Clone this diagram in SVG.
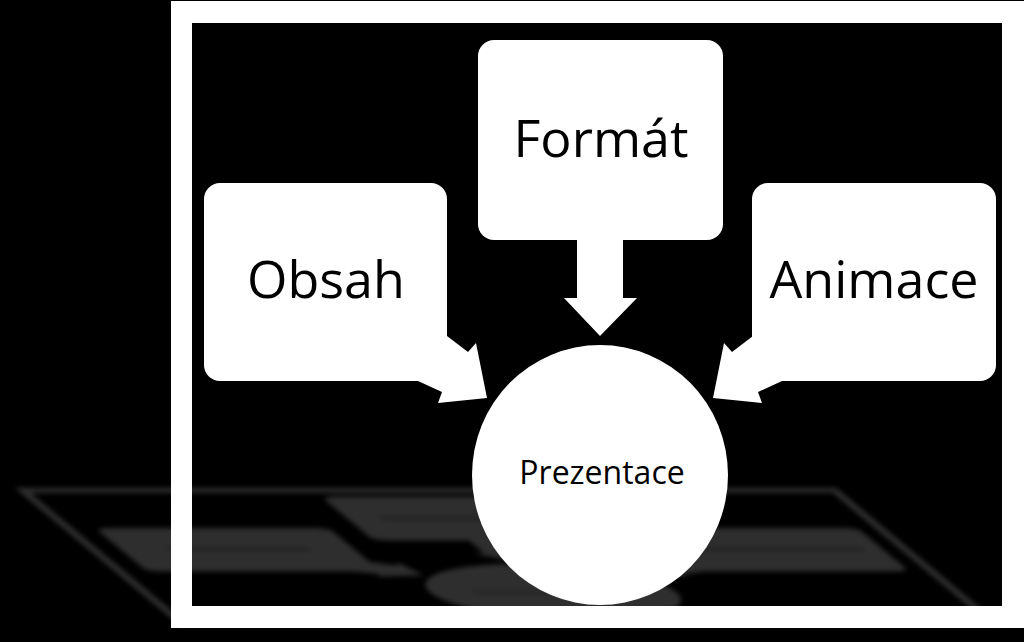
<svg xmlns="http://www.w3.org/2000/svg" width="1024" height="642" viewBox="0 0 1024 642">
<defs>
<style>
.shape{fill:#fff}
.lbl{font-family:"Open Sans","Noto Sans","DejaVu Sans",sans-serif;fill:#000;text-anchor:middle}
.big{font-size:52px}
.small{font-size:32px}
.ghost{fill:#fff}
.ghost-text{fill:#000;opacity:0.18}
</style>
<filter id="soft" x="-5%" y="-20%" width="110%" height="140%"><feGaussianBlur stdDeviation="2.8"/></filter>
</defs>
<rect width="1024" height="642" fill="#000"/>
<g id="reflection" filter="url(#soft)" opacity="0.18">
<g transform="matrix(0.963,0,0.264,0.22,-150,487.8)">
<path class="ghost" fill-rule="evenodd" d="M171,1H1024V628H171Z M181,23V606H1014V23Z"/>
<rect class="ghost" x="478" y="40" width="245" height="200" rx="16"/>
<rect class="ghost" x="204" y="183" width="243" height="198" rx="16"/>
<rect class="ghost" x="752" y="183" width="244" height="198" rx="16"/>
<polygon class="ghost" points="577,230 623,230 623,298 637,298 600,336 564,298 577,298"/>
<polygon class="ghost" points="447,336 468,352 476,343 487,398 438,403 442,392 418,381 410,370"/>
<polygon class="ghost" points="753,336 732,352 724,343 713,398 762,403 758,392 782,381 790,370"/>
<ellipse class="ghost" cx="600" cy="475" rx="128" ry="130"/>
<rect class="ghost-text" x="513" y="125" width="177" height="28"/>
<rect class="ghost-text" x="252" y="265" width="149" height="28"/>
<rect class="ghost-text" x="771" y="265" width="206" height="28"/>
<rect class="ghost-text" x="517" y="462" width="169" height="20"/>
</g>
</g>
<path id="frame" class="shape" fill-rule="evenodd" d="M171,1H1024V628H171Z M192,23V606H1002V23Z"/>
<g id="connectors">
<polygon class="shape" points="577,230 623,230 623,298 637,298 600,336 564,298 577,298"/>
<polygon class="shape" points="447,336 468,352 476,343 487,398 438,403 442,392 418,381 410,370"/>
<polygon class="shape" points="753,336 732,352 724,343 713,398 762,403 758,392 782,381 790,370"/>
</g>
<g id="node-format">
<rect class="shape" x="478" y="40" width="245" height="200" rx="16"/>
<text class="lbl big" x="601" y="157">Formát</text>
</g>
<g id="node-obsah">
<rect class="shape" x="204" y="183" width="243" height="198" rx="16"/>
<text class="lbl big" x="326" y="298">Obsah</text>
</g>
<g id="node-animace">
<rect class="shape" x="752" y="183" width="244" height="198" rx="16"/>
<text class="lbl big" x="874" y="298">Animace</text>
</g>
<g id="node-prezentace">
<ellipse class="shape" cx="600" cy="475" rx="128" ry="130"/>
<text class="lbl small" x="602" y="484">Prezentace</text>
</g>
</svg>
